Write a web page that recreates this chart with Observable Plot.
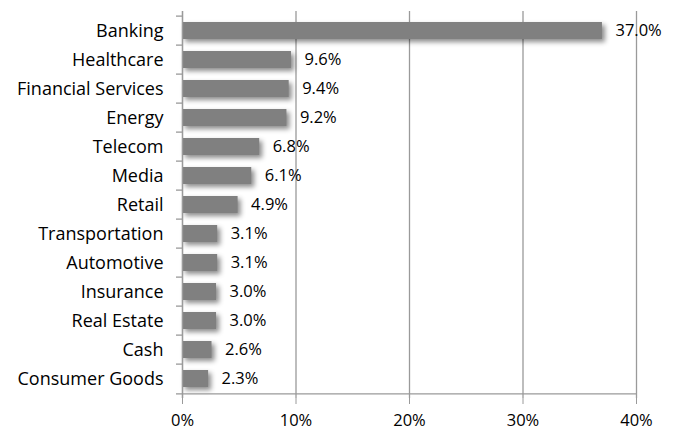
<!DOCTYPE html>
<html>
<head>
<meta charset="utf-8">
<script src="https://cdn.jsdelivr.net/npm/d3@7"></script>
<script src="https://cdn.jsdelivr.net/npm/@observablehq/plot@0.6"></script>
<style>
  html, body { margin: 0; padding: 0; background: #fff; }
  #chart svg { display: block; }
</style>
</head>
<body>
<div id="chart"></div>
<script>
const sectors = ["Banking", "Healthcare", "Financial Services", "Energy", "Telecom", "Media", "Retail", "Transportation", "Automotive", "Insurance", "Real Estate", "Cash", "Consumer Goods"];
const shares = [37.0, 9.6, 9.4, 9.2, 6.8, 6.1, 4.9, 3.1, 3.1, 3.0, 3.0, 2.6, 2.3];
const xTicks = [0, 10, 20, 30, 40];

const data = sectors.map((s, i) => ({sector: s, value: shares[i]}));

const W = 679, H = 433;
const mt = 11, mb = 35, ml = 182, mr = 43;
const step = (H - mt - mb) / sectors.length;
const last = sectors[sectors.length - 1];
const grey = "#9a9a9a";
const font = "'Open Sans', sans-serif";

const chart = Plot.plot({
  width: W,
  height: H,
  marginTop: mt,
  marginBottom: mb,
  marginLeft: ml,
  marginRight: mr,
  style: {fontFamily: font, fontSize: "17px", color: "#000", background: "#fff"},
  x: {domain: [0, 40], ticks: xTicks, label: null},
  y: {domain: sectors, paddingInner: 0.4, paddingOuter: 0.2, label: null},
  marks: [
    Plot.gridX(xTicks, {stroke: grey, strokeOpacity: 1, strokeWidth: 1.3}),
    Plot.barX(data, {x: "value", y: "sector", fill: "#808080"}),
    Plot.text(data, {x: "value", y: "sector", text: d => d.value.toFixed(1) + "%", textAnchor: "start", dx: 13, fill: "#000", fontSize: 16.5}),
    Plot.ruleX([0], {stroke: grey, strokeWidth: 1.3}),
    Plot.ruleY([last], {y: d => d, x1: 0, x2: 40, dy: step / 2, stroke: grey, strokeWidth: 1.3}),
    Plot.axisX(xTicks, {tickFormat: d => d + "%", tickSize: 6, tickPadding: 10, stroke: grey, fill: "#000", fontSize: 16.5, label: null}),
    Plot.axisY({tickSize: 0, tickPadding: 19, fill: "#000", fontSize: 18, label: null}),
    Plot.axisY(sectors, {tickSize: 6, text: null, dy: -step / 2, stroke: grey, strokeWidth: 1.3, label: null}),
    Plot.axisY([last], {tickSize: 6, text: null, dy: step / 2, stroke: grey, strokeWidth: 1.3, label: null})
  ]
});

const bars = chart.querySelector('g[aria-label="bar"]');
if (bars) bars.style.filter = "drop-shadow(3px 3px 2.5px rgba(0,0,0,0.45))";

document.getElementById("chart").appendChild(chart);
</script>
</body>
</html>
